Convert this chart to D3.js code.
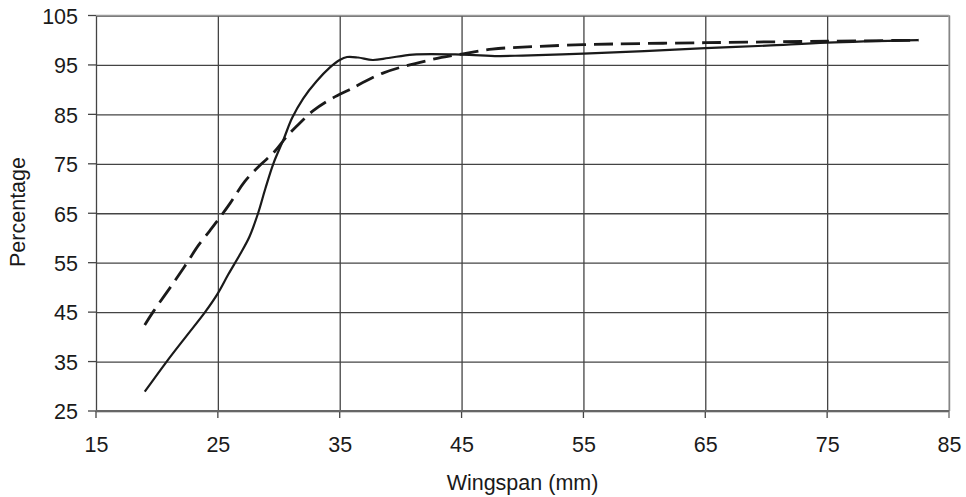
<!DOCTYPE html>
<html>
<head>
<meta charset="utf-8">
<script src="https://cdn.jsdelivr.net/npm/d3@7"></script>
<style>
  body { margin: 0; background: #fff; }
  svg { display: block; font-family: "Liberation Sans", Arial, sans-serif; }
</style>
</head>
<body>
<svg id="chart"></svg>
<script>
// ------ données ------
const xTicks = [15, 25, 35, 45, 55, 65, 75, 85]
const yTicks = [25, 35, 45, 55, 65, 75, 85, 95, 105]

// courbe pleine
const solidX = [19.0, 20.8, 22.4, 23.95, 25, 25.85, 26.8, 27.6, 28.3, 28.9, 29.55, 30.4, 31.1, 32.0, 33.1, 34.2, 35, 35.6, 36.5, 37.7, 39, 41, 45, 48, 50, 55, 60, 65, 70, 75, 82.5]
const solidY = [28.9, 35, 40.1, 45, 48.8, 52.6, 56.6, 60.3, 65, 70, 75, 80, 84.3, 88.2, 91.7, 94.5, 96.0, 96.6, 96.5, 96.0, 96.4, 97.1, 97.1, 96.8, 96.9, 97.3, 97.8, 98.4, 98.9, 99.5, 100]

// courbe en tirets
const dashX = [19.0, 19.7, 21.35, 22.45, 23.4, 24.35, 25, 26.0, 27.2, 28.5, 29.55, 30.65, 31.5, 32.8, 34.2, 35.8, 38.6, 42.4, 45, 47.5, 50, 55, 65, 75, 82.5]
const dashY = [42.4, 45.1, 50.9, 54.9, 58.5, 61.5, 63.6, 67.0, 71.4, 74.8, 77.2, 80.5, 82.7, 85.7, 88, 90, 93.4, 96.0, 97.2, 98.2, 98.6, 99.1, 99.5, 99.8, 100]

// ------ cadre ------
const width = 966, height = 497
const margin = { left: 96, right: 17, top: 15.5, bottom: 86 }
const fontSize = 21.5

const svg = d3.select("#chart")
    .attr("width", width)
    .attr("height", height)

const x = d3.scaleLinear().domain([15, 85]).range([margin.left, width - margin.right])
const y = d3.scaleLinear().domain([25, 105]).range([height - margin.bottom, margin.top])

// grille horizontale
svg.append("g")
    .attr("transform", `translate(${margin.left},0)`)
    .call(d3.axisLeft(y).tickValues(yTicks).tickSize(-(x(85) - x(15))).tickSizeOuter(0).tickPadding(18))
    .call(g => g.select(".domain").remove())
    .call(g => g.selectAll(".tick line").attr("stroke", "#444").attr("stroke-width", 1.3))
    .call(g => g.selectAll(".tick text").attr("font-size", fontSize).attr("fill", "#1a1a1a").attr("dy", "0.36em"))

// petits traits à gauche
svg.append("g")
    .selectAll("line")
    .data(yTicks)
    .enter()
    .append("line")
    .attr("x1", margin.left - 8)
    .attr("x2", margin.left)
    .attr("y1", d => y(d))
    .attr("y2", d => y(d))
    .attr("stroke", "#444")
    .attr("stroke-width", 1.3)

// grille verticale
svg.append("g")
    .attr("transform", `translate(0,${y(25)})`)
    .call(d3.axisBottom(x).tickValues(xTicks).tickSize(-(y(25) - y(105))).tickSizeOuter(0).tickPadding(26))
    .call(g => g.select(".domain").remove())
    .call(g => g.selectAll(".tick line").attr("stroke", "#444").attr("stroke-width", 1.3))
    .call(g => g.selectAll(".tick text").attr("font-size", fontSize).attr("fill", "#1a1a1a"))

svg.append("g")
    .selectAll("line")
    .data(xTicks)
    .enter()
    .append("line")
    .attr("x1", d => x(d))
    .attr("x2", d => x(d))
    .attr("y1", y(25))
    .attr("y2", y(25) + 7)
    .attr("stroke", "#444")
    .attr("stroke-width", 1.3)

// bords haut et droit plus clairs
svg.append("line")
    .attr("x1", x(15)).attr("x2", x(85))
    .attr("y1", y(105)).attr("y2", y(105))
    .attr("stroke", "#999").attr("stroke-width", 1.3)
svg.append("line")
    .attr("x1", x(85)).attr("x2", x(85))
    .attr("y1", y(105)).attr("y2", y(25) + 7)
    .attr("stroke", "#aaa").attr("stroke-width", 1.3)
svg.append("line")
    .attr("x1", x(15)).attr("x2", x(85))
    .attr("y1", y(25)).attr("y2", y(25))
    .attr("stroke", "#666").attr("stroke-width", 2)

// ------ courbes ------
const line = d3.line()
    .x(d => x(d[0]))
    .y(d => y(d[1]))
    .curve(d3.curveCatmullRom.alpha(0.5))

svg.append("path")
    .datum(dashX.map((v, i) => [v, dashY[i]]))
    .attr("fill", "none")
    .attr("stroke", "#1a1a1a")
    .attr("stroke-width", 2.8)
    .attr("stroke-dasharray", "19 8")
    .attr("d", line)

svg.append("path")
    .datum(solidX.map((v, i) => [v, solidY[i]]))
    .attr("fill", "none")
    .attr("stroke", "#1a1a1a")
    .attr("stroke-width", 2.2)
    .attr("d", line)

// ------ titres des axes ------
svg.append("text")
    .attr("x", (x(15) + x(85)) / 2)
    .attr("y", 490)
    .attr("text-anchor", "middle")
    .attr("font-size", fontSize)
    .attr("fill", "#1a1a1a")
    .text("Wingspan (mm)")

svg.append("text")
    .attr("transform", "translate(25,212) rotate(-90)")
    .attr("text-anchor", "middle")
    .attr("font-size", fontSize)
    .attr("fill", "#1a1a1a")
    .text("Percentage")
</script>
</body>
</html>
